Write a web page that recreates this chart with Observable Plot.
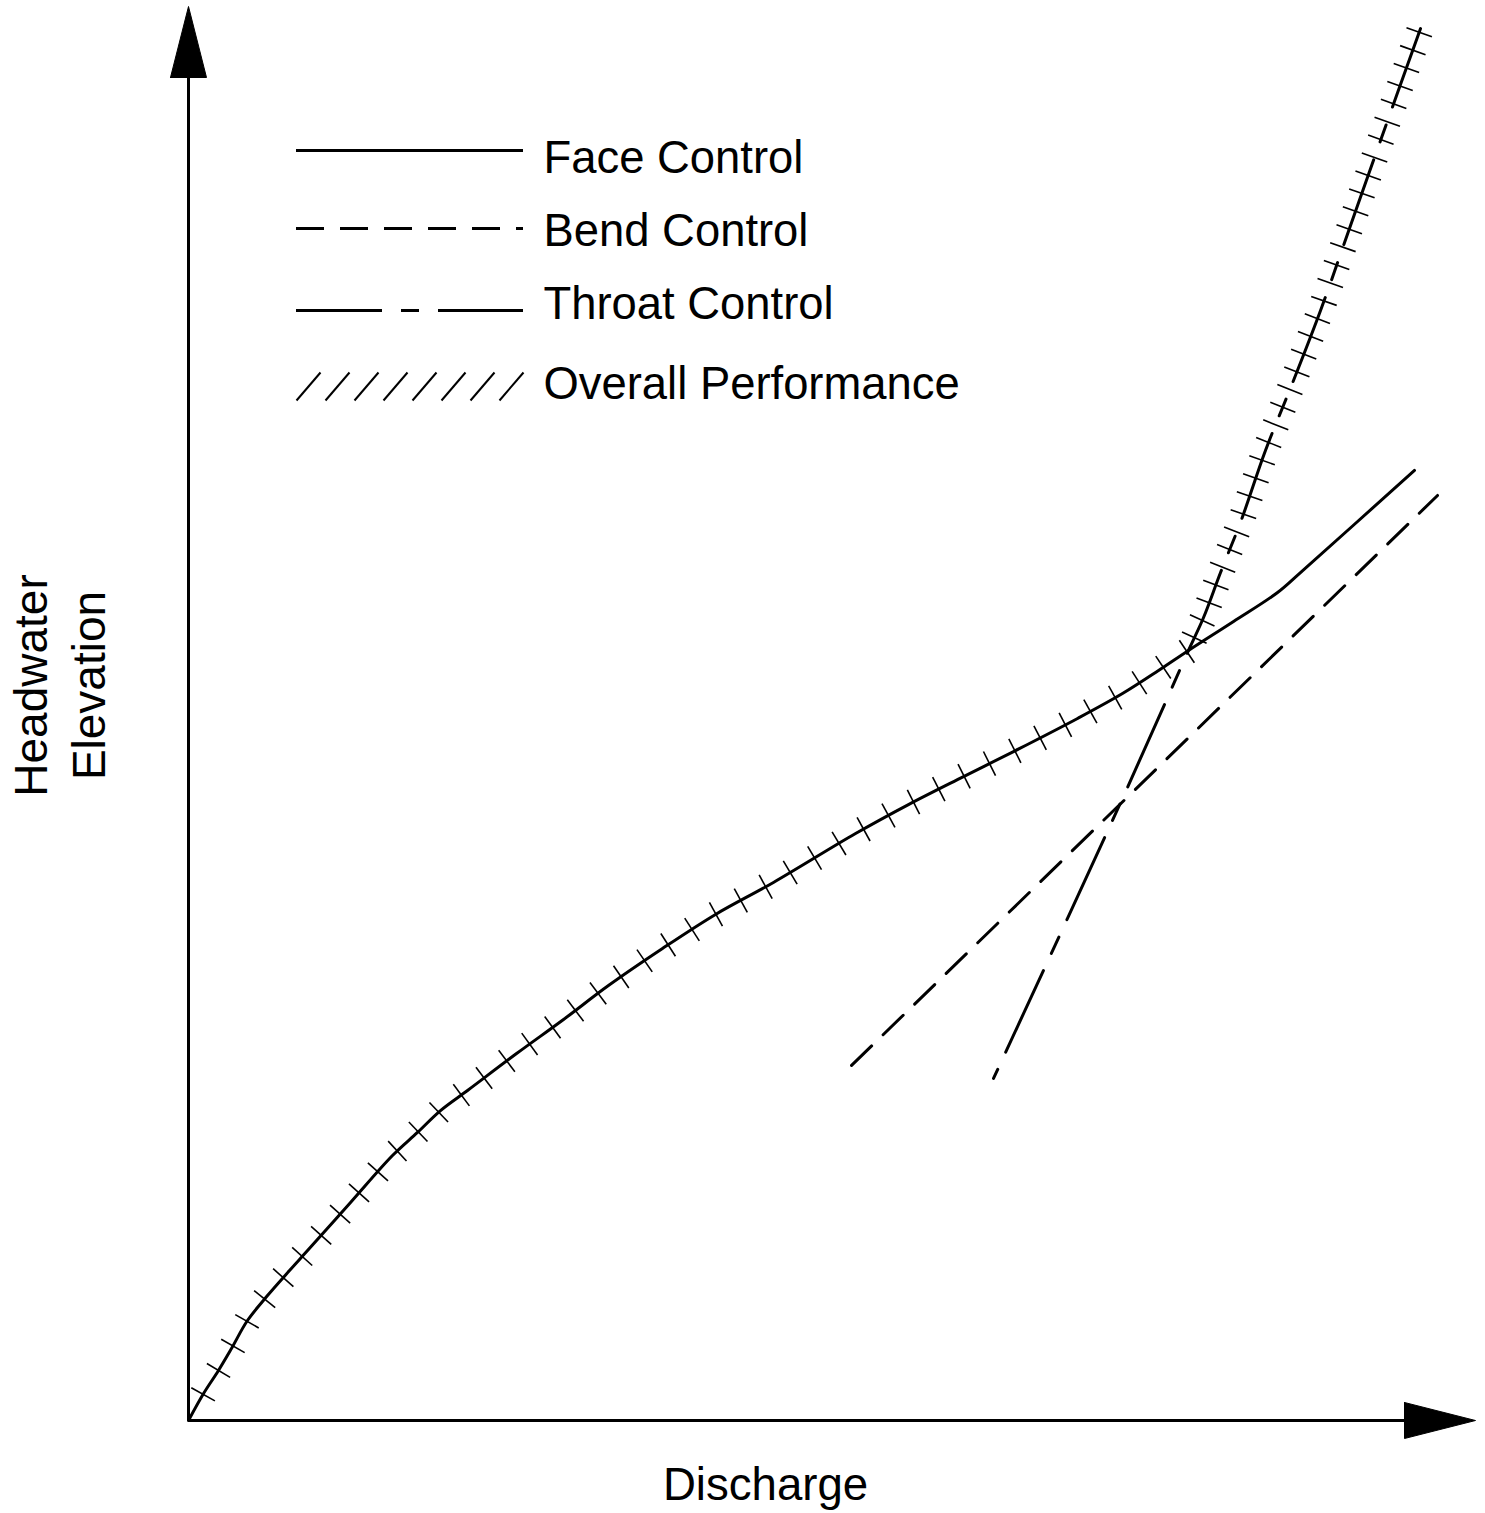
<!DOCTYPE html>
<html><head><meta charset="utf-8">
<script src="https://cdn.jsdelivr.net/npm/d3@7"></script>
<script src="https://cdn.jsdelivr.net/npm/@observablehq/plot@0.6"></script>
<style>html,body{margin:0;padding:0;background:#fff} svg{display:block}</style>
</head><body><div id="chart"></div>
<script>
// Values in percent of axis length (Discharge on x, Headwater Elevation on y)
const faceQ  = [0, 1.17, 2.33, 3.34, 4.58, 6.14, 7.85, 9.25, 12.59, 15.85, 17.79, 19.58, 21.68, 25.49, 29.14, 32.63, 36.83, 40.95, 45.45, 51.83, 55.94, 60.22, 64.26, 69.08, 72.57, 75.37, 77.70, 81.20, 84.62, 86.40, 95.26];
const faceHW = [0, 1.91, 3.54, 5.09, 7.07, 8.84, 10.61, 12.02, 15.42, 18.74, 20.37, 21.92, 23.34, 25.95, 28.36, 30.76, 33.38, 35.79, 38.05, 41.51, 43.56, 45.54, 47.38, 49.65, 51.41, 53.04, 54.46, 56.51, 58.56, 59.97, 67.19];
const bendQ  = [51.52, 97.05];
const bendHW = [25.11, 65.42];
const throatQ  = [62.55, 72.96, 77.70, 78.87, 80.19, 81.82, 83.68, 85.86, 87.96, 90.29, 92.62, 95.73];
const throatHW = [24.19, 44.77, 54.46, 56.79, 59.97, 63.72, 68.60, 73.55, 78.50, 84.51, 90.52, 98.44];

const legendLabels = ["Face Control", "Bend Control", "Throat Control", "Overall Performance"];
const xLabel = "Discharge";
const yLabels = ["Headwater", "Elevation"];

const W = 1485, H = 1513;
const xOpt = {type: "linear", domain: [0, 100], range: [188, 1475]};
const yOpt = {type: "linear", domain: [0, 100], range: [1420, 6]};
const sx = Plot.scale({x: xOpt});
const sy = Plot.scale({y: yOpt});
const X = p => sx.invert(p), Y = p => sy.invert(p);

const zip = (qs, hs) => qs.map((q, i) => ({q, hw: hs[i]}));
const face = zip(faceQ, faceHW);
const bend = zip(bendQ, bendHW);
const throat = zip(throatQ, throatHW);

// overall performance = face control up to where throat control takes over
const kinkIdx = throat.findIndex(t => face.some(f => f.q === t.q && f.hw === t.hw));
const kink = throat[kinkIdx];
const overallLow = face.filter(d => d.q <= kink.q);
const overallHigh = throat.slice(kinkIdx);

function hatch(points, start, step, len) {
  const P = points.map(d => [sx.apply(d.q), sy.apply(d.hw)]);
  const out = [];
  let next = start, acc = 0;
  for (let i = 1; i < P.length; i++) {
    const [x0, y0] = P[i - 1], [x1, y1] = P[i];
    const L = Math.hypot(x1 - x0, y1 - y0);
    while (next <= acc + L) {
      const t = (next - acc) / L;
      const x = x0 + t * (x1 - x0), y = y0 + t * (y1 - y0);
      const nx = -(y1 - y0) / L, ny = (x1 - x0) / L;
      out.push({x1: X(x - nx * len / 2), y1: Y(y - ny * len / 2), x2: X(x + nx * len / 2), y2: Y(y + ny * len / 2)});
      next += step;
    }
    acc += L;
  }
  return out;
}
const ticks = hatch(overallLow, 30, 28.4, 27).concat(hatch(overallHigh, 14, 19, 27));

// axes with filled arrowheads
const xTip = 100, yTip = 100;
const xBase = X(sx.apply(xTip) - 71), yBase = Y(sy.apply(yTip) + 71);
const halfY = Y(sy.apply(0) - 18), halfX = X(sx.apply(0) + 18);
const xArrow = [{q: xBase, hw: halfY}, {q: xTip, hw: 0}, {q: xBase, hw: -halfY}, {q: xBase, hw: halfY}];
const yArrow = [{q: -halfX, hw: yBase}, {q: 0, hw: yTip}, {q: halfX, hw: yBase}, {q: -halfX, hw: yBase}];

// legend layout
const legX1 = X(296), legX2 = X(523), legTextX = X(543);
const legLineY = [150, 228, 310, 386].map(Y);
const legBase = [172, 245, 318, 398].map(Y);
const legRows = legendLabels.map((label, i) => ({label, y: legLineY[i], base: legBase[i]}));
const slashes = d3.range(8).map(i => ({x1: X(296 + i * 29), y1: Y(400), x2: X(320 + i * 29), y2: Y(372)}));

const font = "Liberation Sans, Arial, Helvetica, sans-serif";
const chart = Plot.plot({
  width: W, height: H, margin: 0,
  x: {...xOpt, axis: null},
  y: {...yOpt, axis: null},
  style: {fontFamily: font, background: "white", color: "black"},
  marks: [
    Plot.ruleY([0], {x1: 0, x2: xBase, stroke: "black", strokeWidth: 3}),
    Plot.ruleX([0], {y1: 0, y2: yBase, stroke: "black", strokeWidth: 3}),
    Plot.line(xArrow, {x: "q", y: "hw", fill: "black", stroke: "black", strokeWidth: 1}),
    Plot.line(yArrow, {x: "q", y: "hw", fill: "black", stroke: "black", strokeWidth: 1}),
    Plot.line(bend, {x: "q", y: "hw", stroke: "black", strokeWidth: 3, strokeDasharray: "28,16"}),
    Plot.line(throat, {x: "q", y: "hw", stroke: "black", strokeWidth: 3, curve: "catmull-rom", strokeDasharray: "18,19,90,19", strokeDashoffset: 8}),
    Plot.line(face, {x: "q", y: "hw", stroke: "black", strokeWidth: 3, curve: "catmull-rom"}),
    Plot.link(ticks, {x1: "x1", y1: "y1", x2: "x2", y2: "y2", stroke: "black", strokeWidth: 1.6}),
    // legend
    Plot.ruleY([legRows[0]], {y: "y", x1: legX1, x2: legX2, stroke: "black", strokeWidth: 3}),
    Plot.ruleY([legRows[1]], {y: "y", x1: legX1, x2: legX2, stroke: "black", strokeWidth: 3, strokeDasharray: "28,16"}),
    Plot.ruleY([legRows[2]], {y: "y", x1: legX1, x2: legX2, stroke: "black", strokeWidth: 3, strokeDasharray: "86,19,18,19"}),
    Plot.link(slashes, {x1: "x1", y1: "y1", x2: "x2", y2: "y2", stroke: "black", strokeWidth: 2}),
    Plot.text(legRows, {x: legTextX, y: "base", text: "label", textAnchor: "start", lineAnchor: "bottom", fontSize: 45.4, fill: "black"}),
    // axis labels
    Plot.text([xLabel], {x: X(765), y: Y(1499), text: d => d, textAnchor: "middle", lineAnchor: "bottom", fontSize: 45.6, fill: "black"}),
    Plot.text([{t: yLabels[0], bx: 46}, {t: yLabels[1], bx: 104}], {x: d => X(d.bx), y: Y(685), text: "t", rotate: -90, textAnchor: "middle", lineAnchor: "bottom", fontSize: 46, fill: "black"})
  ]
});
document.getElementById("chart").appendChild(chart);
</script>
</body></html>
